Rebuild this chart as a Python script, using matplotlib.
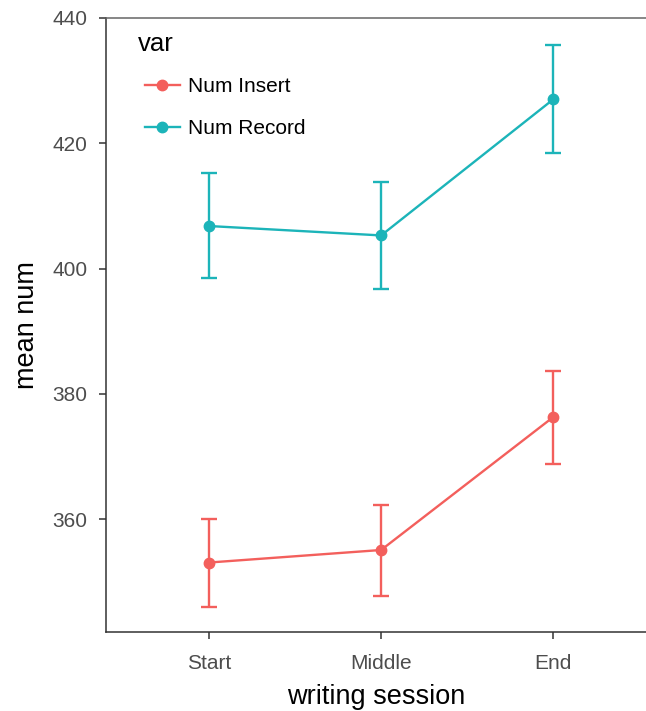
import matplotlib
matplotlib.use("Agg")
import matplotlib.pyplot as plt
from matplotlib.lines import Line2D

plt.rcParams['font.family'] = ['Liberation Sans', 'DejaVu Sans']

sessions = ['Start', 'Middle', 'End']
insert_mean = [353.1, 355.1, 376.3]
insert_lo = [346.0, 347.8, 368.8]
insert_hi = [360.1, 362.3, 383.7]
record_mean = [406.8, 405.3, 427.0]
record_lo = [398.5, 396.8, 418.4]
record_hi = [415.2, 413.8, 435.7]

series = [
    ('Num Insert', insert_mean, insert_lo, insert_hi, '#F35F5C'),
    ('Num Record', record_mean, record_lo, record_hi, '#1CB4B9'),
]

fig = plt.figure(figsize=(6.46, 7.11), dpi=100)
ax = fig.add_axes([0.164, 0.111, 0.836, 0.8637])

xs = list(range(1, len(sessions) + 1))
for name, m, lo, hi, col in series:
    yerr = [[a - b for a, b in zip(m, lo)], [b - a for a, b in zip(m, hi)]]
    ax.errorbar(xs, m, yerr=yerr, color=col, lw=1.7, elinewidth=1.7,
                capsize=6, capthick=1.7, marker='o', markersize=7.5)

ax.set_xlim(0.4, 3.54)
ax.set_ylim(342, 440)
ax.set_xticks(xs)
ax.set_xticklabels(sessions)
ax.set_yticks([360, 380, 400, 420, 440])

for side in ['left', 'bottom']:
    ax.spines[side].set_color('#333333')
    ax.spines[side].set_linewidth(1.1)
ax.spines['top'].set_color('#666666')
ax.spines['top'].set_linewidth(1.1)
ax.spines['right'].set_visible(False)

ax.tick_params(axis='both', labelsize=15, colors='#333333', labelcolor='#4d4d4d',
               length=5, width=1.1)
ax.tick_params(axis='y', pad=8.5)
ax.tick_params(axis='x', pad=10.5)
ax.set_xlabel('writing session', fontsize=19.5, labelpad=8.5)
ax.set_ylabel('mean num', fontsize=19.5, labelpad=9)

# legend: title drawn separately so the keys sit a bit right of it
ax.text(0.0593, 0.958, 'var', transform=ax.transAxes, fontsize=18.5,
        ha='left', va='center')
labels = [s[0] for s in series]
handles = [Line2D([], [], color=s[4], lw=1.7, marker='o', markersize=7.5) for s in series]
ax.legend(handles, labels, loc='upper left', bbox_to_anchor=(0.0722, 0.904),
          frameon=False, fontsize=15, labelspacing=1.1, handlelength=1.68,
          handletextpad=0.38, borderpad=0, borderaxespad=0)

fig.savefig('out.png', dpi=100)
